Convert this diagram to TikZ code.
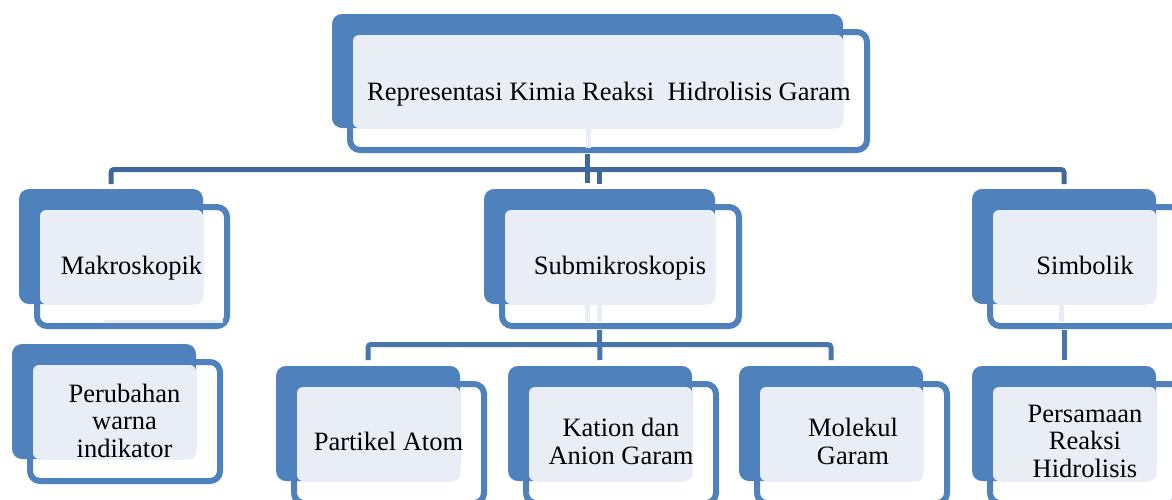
\documentclass[tikz,border=0pt]{standalone}
\usepackage{fontspec}
\setmainfont{Liberation Serif}
\usetikzlibrary{calc,backgrounds}
\definecolor{boxblue}{RGB}{79,129,189}
\definecolor{boxlight}{RGB}{233,238,246}
\definecolor{connA}{RGB}{64,104,155}
\definecolor{connB}{RGB}{72,117,172}
\tikzset{
 outl/.style={draw=boxblue, line width=6pt, fill=white, rounded corners=10pt},
 backbox/.style={fill=boxblue, rounded corners=10pt, inner sep=0pt, outer sep=0pt, rectangle},
 lightbox/.style={fill=boxlight, rounded corners=6pt},
 conn/.style={draw=connA, line width=5pt},
 connlow/.style={draw=connB, line width=5pt},
 stub/.style={draw=boxlight, line width=5pt},
 lbl/.style={font=\fontsize{26.5}{27.3}\selectfont, align=center, anchor=base, inner sep=0pt, text=black},
}
\newcommand{\kbox}[5]{%
 \draw[outl] (#2+18,#3+18) rectangle (#2+#4+24,#3+#5+22);
 \node[backbox, minimum width=#4pt, minimum height=#5pt, anchor=north west] (#1) at (#2,#3) {};
 \fill[lightbox] (#2+21,#3+21) rectangle (#2+#4,#3+#5);
}
\begin{document}
\begin{tikzpicture}[x=1pt,y=-1pt]
\useasboundingbox (0,0) rectangle (1172,499);
\fill[white] (0,0) rectangle (1172,499);
% boxes
\kbox{T}{332}{14}{511}{114}
\kbox{M}{19}{189}{184}{115}
\kbox{S}{484}{189}{231}{115}
\kbox{Y}{972}{189}{184}{115}
\kbox{P}{12}{344}{184}{115}
\kbox{A}{276}{366}{184}{115}
\kbox{K}{508}{366}{184}{115}
\kbox{L}{739}{366}{184}{115}
\kbox{Q}{972}{366}{184}{115}
% connectors
\coordinate (h1) at (0,169.5);
\coordinate (h2) at (0,324.5);
\coordinate (h3) at (0,344.5);
\begin{pgfonlayer}{background}
\draw[conn] ([yshift=6pt]P.north) -- (P.north |- h2) -- (S.south |- h2);
\end{pgfonlayer}
\draw[conn] ([yshift=-26pt]T.south) -- ([yshift=-55pt]T.south);
\draw[conn, rounded corners=3pt] ([yshift=5pt]M.north) -- (M.north |- h1) -- (Y.north |- h1) -- ([yshift=5pt]Y.north);
\draw[conn] (S.north |- h1) -- ([yshift=5pt]S.north);
\draw[connlow] ([yshift=-26pt]S.south) -- ([yshift=6pt]K.north);
\draw[connlow, rounded corners=3pt] ([yshift=6pt]A.north) -- (A.north |- h3) -- (L.north |- h3) -- ([yshift=6pt]L.north);
\draw[connlow] ([yshift=-26pt]Y.south) -- ([yshift=6pt]Q.north);
% faint stubs
\draw[stub] ([xshift=0.5pt]T.south) -- ([xshift=0.5pt,yshift=-20pt]T.south);
\draw[stub] ([xshift=-12pt]S.south) -- ([xshift=-12pt,yshift=-18pt]S.south);
\draw[stub] (S.south) -- ([yshift=-18pt]S.south);
\draw[stub] ([xshift=-3pt]Y.south) -- ([xshift=-3pt,yshift=-18pt]Y.south);
\draw[boxlight, line width=3pt] ([yshift=-17pt]P.north |- M.south) -- ([xshift=20pt,yshift=-17pt]M.south east);
% labels
\node[lbl] (tT) at (609,100) {Representasi Kimia Reaksi\ \ Hidrolisis Garam};
\node[lbl] (tM) at (131.5,274) {Makroskopik};
\node[lbl] (tS) at (620,274) {Submikroskopis};
\node[lbl] (tY) at (1085,274) {Simbolik};
\node[lbl] (tP) at (124.5,457) {Perubahan\\warna\\indikator};
\node[lbl] (tA) at (388.5,450) {Partikel Atom};
\node[lbl] (tK) at (621,464) {Kation dan\\Anion Garam};
\node[lbl] (tL) at (853,464) {Molekul\\Garam};
\node[lbl] (tQ) at (1085,477) {Persamaan\\Reaksi\\Hidrolisis};
\end{tikzpicture}
\end{document}
